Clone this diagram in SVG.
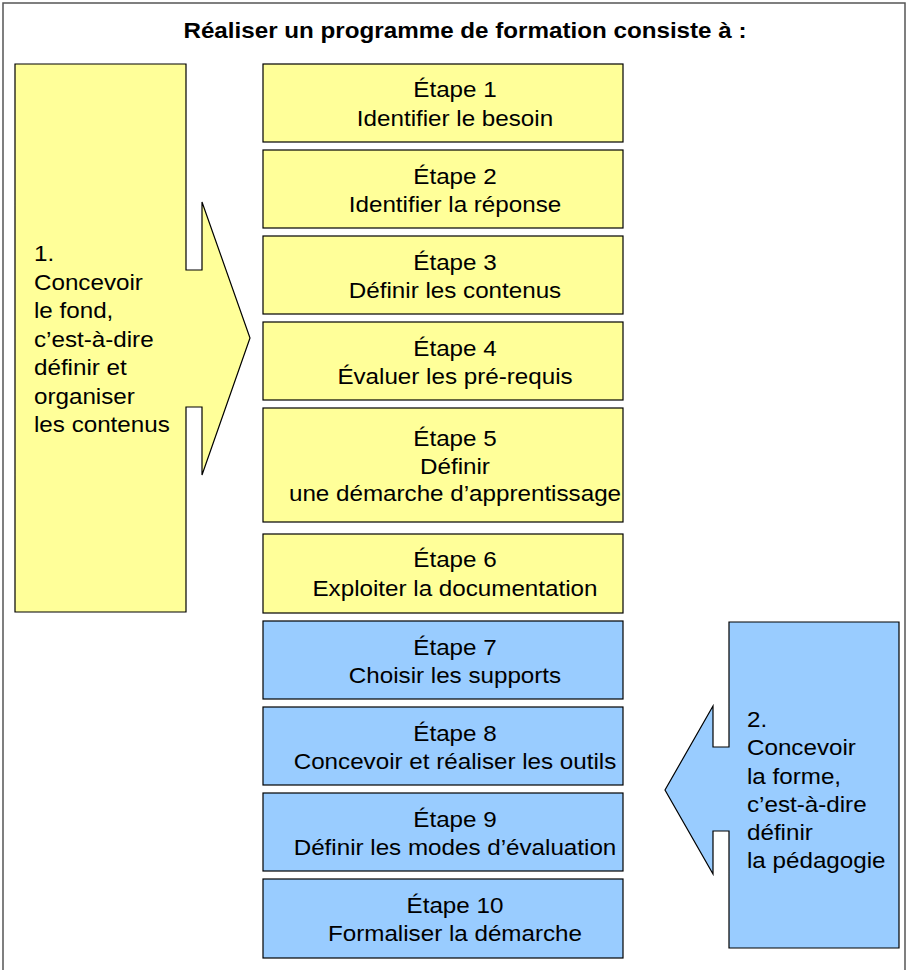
<svg xmlns="http://www.w3.org/2000/svg" width="907" height="970" viewBox="0 0 907 970">
<style>
.t{font-family:"Liberation Sans",Arial,sans-serif;font-size:22px;fill:#000}
.c{text-anchor:middle}
.b{font-weight:bold}
.y{fill:#FFFF99;stroke:#000;stroke-width:1.2}
.u{fill:#99CCFF;stroke:#000;stroke-width:1.2}
</style>
<rect x="3" y="3" width="902" height="980" fill="#fff" stroke="#555" stroke-width="1.5"/>
<g id="title" transform="matrix(1.1 0 0 1 -46.5 0)">
<text class="t c b" x="465" y="38">Réaliser un programme de formation consiste à :</text>
</g>
<g id="phase1">
<polygon class="y" points="15,64 186,64 186,270 202,270 202,202 250,338 202,475 202,407 186,407 186,612 15,612"/>
<g transform="matrix(1.1 0 0 1 -3.4 0)" class="t">
<text x="34" y="261.5">1.</text>
<text x="34" y="290">Concevoir</text>
<text x="34" y="318.5">le fond,</text>
<text x="34" y="347">c’est-à-dire</text>
<text x="34" y="375.5">définir et</text>
<text x="34" y="404">organiser</text>
<text x="34" y="432.5">les contenus</text>
</g>
</g>
<g id="phase2">
<polygon class="u" points="729,622 899,622 899,948 729,948 729,831 713,831 713,874 665,790 713,706 713,747 729,747"/>
<g transform="matrix(1.1 0 0 1 -74.7 0)" class="t">
<text x="747" y="727">2.</text>
<text x="747" y="755.3">Concevoir</text>
<text x="747" y="783.6">la forme,</text>
<text x="747" y="811.9">c’est-à-dire</text>
<text x="747" y="840.2">définir</text>
<text x="747" y="868.5">la pédagogie</text>
</g>
</g>
<g id="etape1"><rect class="y" x="263" y="64" width="360" height="78"/>
<g transform="matrix(1.1 0 0 1 -45.5 0)" class="t c"><text x="455" y="97.5">Étape 1</text><text x="455" y="126">Identifier le besoin</text></g></g>
<g id="etape2"><rect class="y" x="263" y="150" width="360" height="78"/>
<g transform="matrix(1.1 0 0 1 -45.5 0)" class="t c"><text x="455" y="184">Étape 2</text><text x="455" y="212.5">Identifier la réponse</text></g></g>
<g id="etape3"><rect class="y" x="263" y="236" width="360" height="78"/>
<g transform="matrix(1.1 0 0 1 -45.5 0)" class="t c"><text x="455" y="270">Étape 3</text><text x="455" y="298.5">Définir les contenus</text></g></g>
<g id="etape4"><rect class="y" x="263" y="322" width="360" height="78"/>
<g transform="matrix(1.1 0 0 1 -45.5 0)" class="t c"><text x="455" y="356">Étape 4</text><text x="455" y="384.5">Évaluer les pré-requis</text></g></g>
<g id="etape5"><rect class="y" x="263" y="408" width="360" height="114"/>
<g transform="matrix(1.1 0 0 1 -45.5 0)" class="t c"><text x="455" y="446.5">Étape 5</text><text x="455" y="474">Définir</text><text x="455" y="501.5">une démarche d’apprentissage</text></g></g>
<g id="etape6"><rect class="y" x="263" y="534" width="360" height="79"/>
<g transform="matrix(1.1 0 0 1 -45.5 0)" class="t c"><text x="455" y="567">Étape 6</text><text x="455" y="596">Exploiter la documentation</text></g></g>
<g id="etape7"><rect class="u" x="263" y="621" width="360" height="78"/>
<g transform="matrix(1.1 0 0 1 -45.5 0)" class="t c"><text x="455" y="655">Étape 7</text><text x="455" y="683.5">Choisir les supports</text></g></g>
<g id="etape8"><rect class="u" x="263" y="707" width="360" height="78"/>
<g transform="matrix(1.1 0 0 1 -45.5 0)" class="t c"><text x="455" y="741">Étape 8</text><text x="455" y="769.5">Concevoir et réaliser les outils</text></g></g>
<g id="etape9"><rect class="u" x="263" y="793" width="360" height="78"/>
<g transform="matrix(1.1 0 0 1 -45.5 0)" class="t c"><text x="455" y="827">Étape 9</text><text x="455" y="855.5">Définir les modes d’évaluation</text></g></g>
<g id="etape10"><rect class="u" x="263" y="879" width="360" height="79"/>
<g transform="matrix(1.1 0 0 1 -45.5 0)" class="t c"><text x="455" y="913">Étape 10</text><text x="455" y="941">Formaliser la démarche</text></g></g>
<g id="connectors"></g>
</svg>
